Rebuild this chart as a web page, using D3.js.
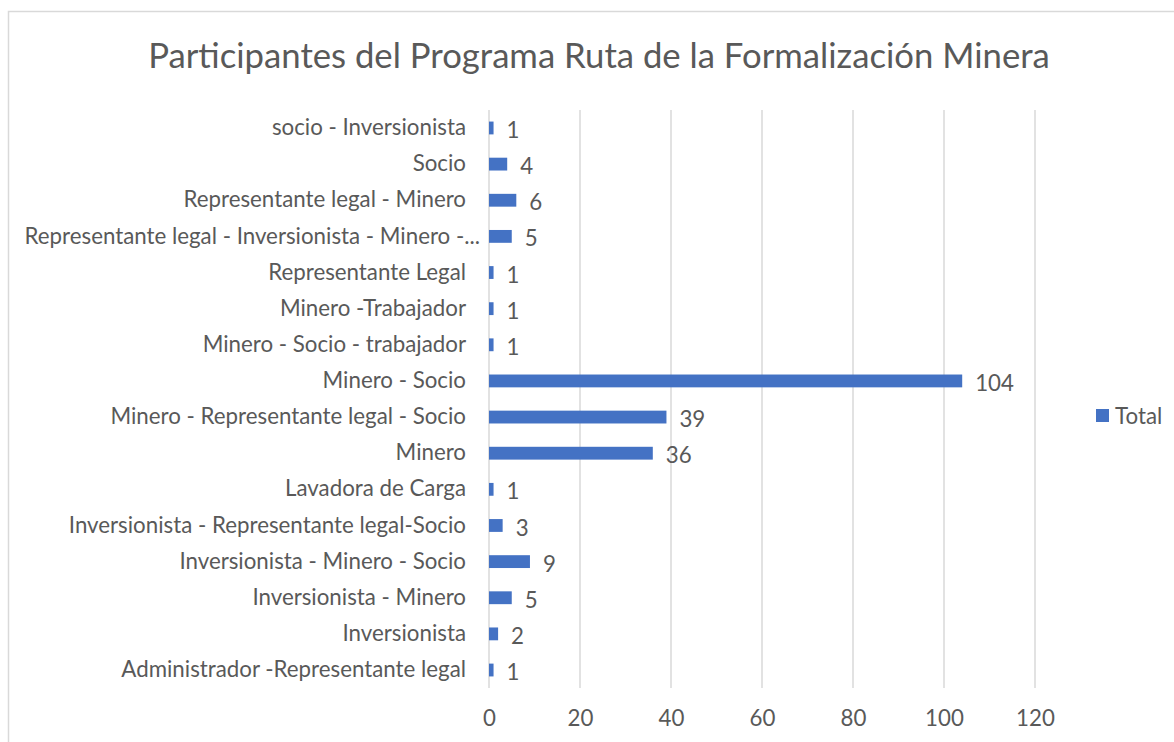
<!DOCTYPE html>
<html>
<head>
<meta charset="utf-8">
<script src="https://cdn.jsdelivr.net/npm/d3@7"></script>
<style>
  body { margin: 0; background: #fff; }
  text { font-family: Lato, "Open Sans", sans-serif; fill: #595959; }
</style>
</head>
<body>
<div id="chart"></div>
<script>
// categorieen van onder naar boven, zoals in de grafiek
var categories = [
  'Administrador -Representante legal',
  'Inversionista',
  'Inversionista - Minero',
  'Inversionista - Minero - Socio',
  'Inversionista - Representante legal-Socio',
  'Lavadora de Carga',
  'Minero',
  'Minero - Representante legal - Socio',
  'Minero - Socio',
  'Minero - Socio - trabajador',
  'Minero -Trabajador',
  'Representante Legal',
  'Representante legal - Inversionista - Minero -...',
  'Representante legal - Minero',
  'Socio',
  'socio - Inversionista'
];
var totals = [1, 2, 5, 9, 3, 1, 36, 39, 104, 1, 1, 1, 5, 6, 4, 1];
var xTicks = [0, 20, 40, 60, 80, 100, 120];
var seriesName = 'Total';
var title = 'Participantes del Programa Ruta de la Formalización Minera';

var width = 1174, height = 742;
var margin = {top: 110, right: 139, bottom: 54, left: 489};
var plotW = width - margin.left - margin.right;
var plotH = height - margin.top - margin.bottom;
var fs = '22.3px';

var svg = d3.select('#chart')
  .append('svg')
  .attr('width', width)
  .attr('height', height);

// rand van het grafiekgebied
svg.append('rect')
  .attr('x', 8.5)
  .attr('y', 11.5)
  .attr('width', width)
  .attr('height', height)
  .attr('fill', 'none')
  .attr('stroke', '#d9d9d9')
  .attr('stroke-width', 1.5);

svg.append('text')
  .attr('x', 599)
  .attr('y', 68)
  .attr('text-anchor', 'middle')
  .style('font-size', '34.7px')
  .text(title);

var g = svg.append('g')
  .attr('transform', 'translate(' + margin.left + ',' + margin.top + ')');

var xScale = d3.scaleLinear()
  .domain([0, 120])
  .range([0, 546]);

var yScale = d3.scaleBand()
  .domain(categories.slice().reverse())
  .range([0, plotH])
  .paddingInner(0.645)
  .paddingOuter(0.32);

// gridlijnen
g.selectAll('.grid')
  .data(xTicks)
  .enter().append('line')
  .attr('class', 'grid')
  .attr('x1', function(d){ return xScale(d); })
  .attr('x2', function(d){ return xScale(d); })
  .attr('y1', 0)
  .attr('y2', plotH)
  .attr('stroke', '#d9d9d9')
  .attr('stroke-width', 1.5);

// x-as labels
var xAxis = d3.axisBottom(xScale)
  .tickValues(xTicks)
  .tickSize(0)
  .tickPadding(22);

var xg = g.append('g')
  .attr('transform', 'translate(0,' + plotH + ')')
  .call(xAxis);
xg.select('.domain').remove();
xg.selectAll('text')
  .style('font-size', fs)
  .attr('fill', '#595959')
  .attr('font-family', null);

// y-as labels
var yAxis = d3.axisLeft(yScale)
  .tickSize(0)
  .tickPadding(23);

var yg = g.append('g').call(yAxis);
yg.select('.domain').remove();
yg.selectAll('text')
  .style('font-size', fs)
  .attr('fill', '#595959')
  .attr('font-family', null);

// het afgekorte label loopt in excel iets verder door naar rechts
yg.selectAll('text')
  .filter(function(d){ return d.slice(-3) === '...'; })
  .attr('dx', 14);

var data = categories.map(function(c, i){ return {cat: c, val: totals[i]}; });

g.selectAll('.bar')
  .data(data)
  .enter().append('rect')
  .attr('class', 'bar')
  .attr('x', xScale(0))
  .attr('y', function(d){ return yScale(d.cat); })
  .attr('width', function(d){ return xScale(d.val) - xScale(0); })
  .attr('height', yScale.bandwidth())
  .attr('fill', '#4472c4');

g.selectAll('.value')
  .data(data)
  .enter().append('text')
  .attr('class', 'value')
  .attr('x', function(d){ return xScale(d.val) + 13; })
  .attr('y', function(d){ return yScale(d.cat) + yScale.bandwidth() / 2; })
  .attr('dy', '0.45em')
  .style('font-size', fs)
  .text(function(d){ return d.val; });

// legenda
var legend = svg.append('g')
  .attr('transform', 'translate(1096,409)');
legend.append('rect')
  .attr('width', 13)
  .attr('height', 13)
  .attr('fill', '#4472c4');
legend.append('text')
  .attr('x', 19)
  .attr('y', 7)
  .attr('dy', '0.36em')
  .style('font-size', fs)
  .text(seriesName);
</script>
</body>
</html>
